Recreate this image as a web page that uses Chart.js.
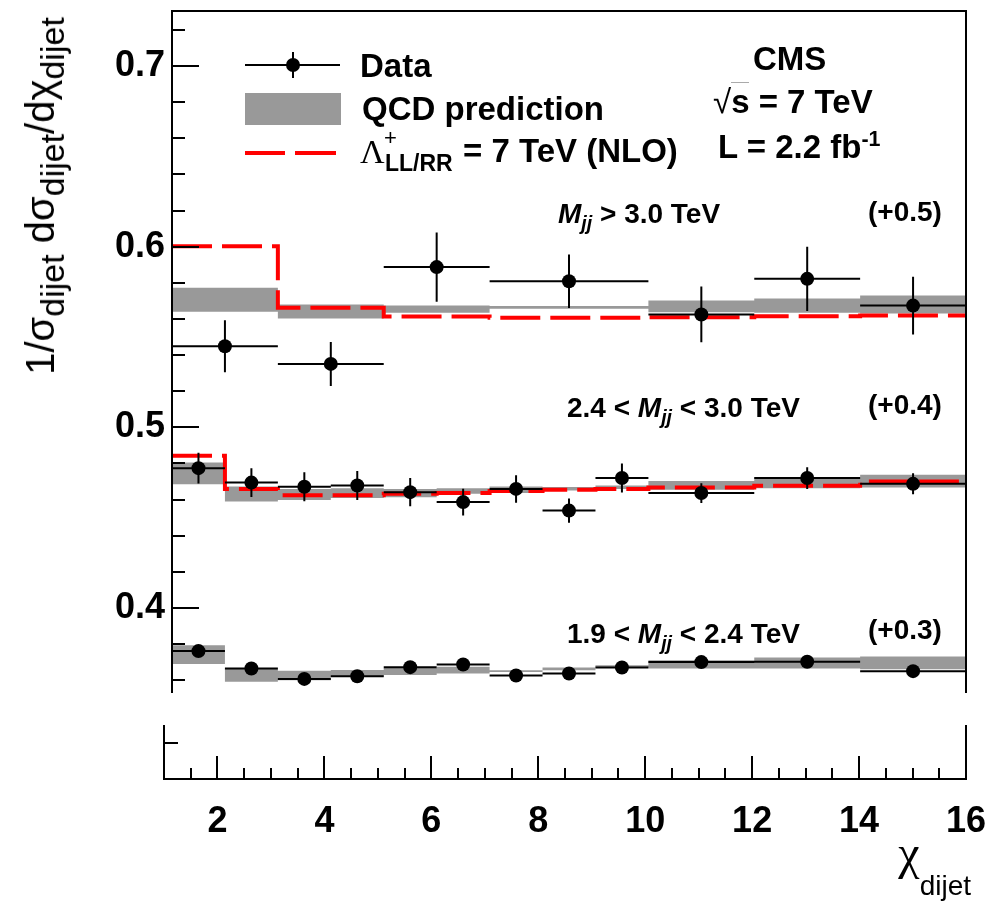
<!DOCTYPE html>
<html>
<head>
<meta charset="utf-8">
<script src="https://cdn.jsdelivr.net/npm/chart.js@4.4.1/dist/chart.umd.min.js"></script>
<style>
html, body { margin: 0; padding: 0; background: #fff; }
#wrap { position: relative; width: 996px; height: 903px; overflow: hidden; font-family: 'Liberation Sans', Arial, sans-serif; color: #000; }
#topPad { position: absolute; left: 0; top: 0; }
#botPad { position: absolute; left: 0; top: 700px; }
.txt { position: absolute; white-space: nowrap; font-weight: bold; line-height: 1; }
.big { font-size: 33px; }
.mid { font-size: 28px; }
.txt sub { font-size: 0.7em; vertical-align: -0.35em; line-height: 0; }
.txt sup { font-size: 0.65em; vertical-align: 0.55em; line-height: 0; }
.ytitle sub { font-size: 0.85em; vertical-align: -0.3em; }
.sym { position: absolute; }
</style>
</head>
<body>
<div id="wrap">
  <canvas id="topPad" width="996" height="700"></canvas>
  <canvas id="botPad" width="996" height="203"></canvas>

  <!-- legend -->
  <div class="sym" style="left:245px;top:64px;width:95px;height:2px;background:#000"></div>
  <div class="sym" style="left:292px;top:52px;width:2px;height:26px;background:#000"></div>
  <div class="sym" style="left:286px;top:58px;width:14px;height:14px;border-radius:50%;background:#000"></div>
  <div class="txt big" style="left:360px;top:49px">Data</div>
  <div class="sym" style="left:245px;top:93px;width:96px;height:32px;background:#999"></div>
  <div class="txt big" style="left:362px;top:92px">QCD prediction</div>
  <div class="sym" style="left:245px;top:151px;width:40px;height:4px;background:#f00"></div>
  <div class="sym" style="left:295px;top:151px;width:41px;height:4px;background:#f00"></div>
  <div class="txt" style="left:360px;top:135px;font-family:'Liberation Serif';font-weight:normal;font-size:34px">Λ</div>
  <div class="txt" style="left:384px;top:127px;font-weight:normal;font-size:22px">+</div>
  <div class="txt" style="left:385px;top:152px;font-size:23px">LL/RR</div>
  <div class="txt big" style="left:463px;top:134px">= 7 TeV (NLO)</div>

  <div class="txt big" style="left:753px;top:42px">CMS</div>
  <div class="txt big" style="left:713px;top:85px"><span style="font-weight:normal">√</span><span style="border-top:1px solid #aaa">s</span> = 7 TeV</div>
  <div class="txt big" style="left:718px;top:130px">L = 2.2 fb<sup>-1</sup></div>

  <div class="txt mid" style="left:558px;top:200px"><i>M</i><sub><i>jj</i></sub> &gt; 3.0 TeV</div>
  <div class="txt mid" style="left:868px;top:198px">(+0.5)</div>
  <div class="txt mid" style="left:567px;top:394px">2.4 &lt; <i>M</i><sub><i>jj</i></sub> &lt; 3.0 TeV</div>
  <div class="txt mid" style="left:868px;top:391px">(+0.4)</div>
  <div class="txt mid" style="left:567px;top:620px">1.9 &lt; <i>M</i><sub><i>jj</i></sub> &lt; 2.4 TeV</div>
  <div class="txt mid" style="left:868px;top:616px">(+0.3)</div>

  <!-- axis titles -->
  <div class="txt ytitle" style="left:40px;top:196px;font-weight:normal;font-size:40px;transform:translate(-50%,-50%) rotate(-90deg)">1/σ<sub>dijet</sub> dσ<sub>dijet</sub>/dχ<sub>dijet</sub></div>
  <div class="txt" style="right:25px;top:829px;font-weight:normal;font-size:48px"><span style="font-family:'Liberation Serif'">χ</span><span style="font-size:28px;vertical-align:-26px;line-height:0">dijet</span></div>
</div>

<script>
// chi_dijet bin edges
var edgesHigh = [1, 3, 5, 7, 10, 12, 14, 16];
var edgesFine = [1, 2, 3, 4, 5, 6, 7, 8, 9, 10, 12, 14, 16];

// M_jj > 3.0 TeV (+0.5)
var dataHigh = [0.5449, 0.5351, 0.5887, 0.5809, 0.5625, 0.5822, 0.5674];
var errHigh = [0.0144, 0.0122, 0.0192, 0.0148, 0.0154, 0.0178, 0.0160];
var qcdHighLo = [0.5640, 0.5602, 0.5634, 0.5656, 0.5637, 0.5634, 0.5630];
var qcdHighHi = [0.5773, 0.5680, 0.5674, 0.5671, 0.5702, 0.5713, 0.5730];
var ciHigh = [0.6003, 0.5662, 0.5613, 0.5606, 0.5610, 0.5615, 0.5619];

// 2.4 < M_jj < 3.0 TeV (+0.4)
var dataMid = [0.4774, 0.4694, 0.4671, 0.4678, 0.4641, 0.4586, 0.4659, 0.4539, 0.4719, 0.4636, 0.4719, 0.4687];
var errMid = [0.0085, 0.0080, 0.0080, 0.0080, 0.0078, 0.0074, 0.0076, 0.0067, 0.0080, 0.0055, 0.0060, 0.0058];
var qcdMidLo = [0.4685, 0.4589, 0.4598, 0.4608, 0.4613, 0.4632, 0.4636, 0.4650, 0.4658, 0.4654, 0.4663, 0.4667];
var qcdMidHi = [0.4805, 0.4672, 0.4659, 0.4663, 0.4658, 0.4663, 0.4672, 0.4670, 0.4678, 0.4703, 0.4724, 0.4737];
var ciMid = [0.4842, 0.4659, 0.4624, 0.4624, 0.4632, 0.4636, 0.4647, 0.4654, 0.4659, 0.4667, 0.4677, 0.4700];

// 1.9 < M_jj < 2.4 TeV (+0.3)
var dataLow = [0.3761, 0.3665, 0.3607, 0.3622, 0.3672, 0.3687, 0.3626, 0.3637, 0.3670, 0.3700, 0.3702, 0.3650];
var errLow = [0.0020, 0.0018, 0.0018, 0.0018, 0.0018, 0.0018, 0.0018, 0.0018, 0.0018, 0.0018, 0.0018, 0.0018];
var qcdLowLo = [0.3689, 0.3591, 0.3600, 0.3619, 0.3628, 0.3637, 0.3645, 0.3655, 0.3670, 0.3665, 0.3665, 0.3660];
var qcdLowHi = [0.3794, 0.3665, 0.3652, 0.3656, 0.3668, 0.3674, 0.3655, 0.3670, 0.3683, 0.3710, 0.3725, 0.3731];

// axes
var yRange = [0.3529, 0.7305];
var yMajorStep = 0.1, yMinorStep = 0.02;
var xRange = [1, 16];
var xMajorStep = 2, xMinorStep = 0.5;
var ratioRange = [0.9, 1.05];
var ratioTicks = [1.0];

function stepPoints(edges, vals) {
    var pts = [];
    for (var i = 0; i < vals.length; i++) {
        pts.push({ x: edges[i], y: vals[i] });
        pts.push({ x: edges[i + 1], y: vals[i] });
    }
    return pts;
}

function markerPoints(edges, vals) {
    return vals.map(function (v, i) {
        return { x: (edges[i] + edges[i + 1]) / 2, y: v };
    });
}

// x bars = bin width, y bars = stat. error; null breaks the line
function errorBars(edges, vals, errs) {
    var pts = [];
    for (var i = 0; i < vals.length; i++) {
        var c = (edges[i] + edges[i + 1]) / 2;
        pts.push({ x: edges[i], y: vals[i] }, { x: edges[i + 1], y: vals[i] }, { x: c, y: null });
        pts.push({ x: c, y: vals[i] - errs[i] }, { x: c, y: vals[i] + errs[i] }, { x: c, y: null });
    }
    return pts;
}

var series = [
    { edges: edgesHigh, data: dataHigh, err: errHigh, lo: qcdHighLo, hi: qcdHighHi, ci: ciHigh },
    { edges: edgesFine, data: dataMid, err: errMid, lo: qcdMidLo, hi: qcdMidHi, ci: ciMid },
    { edges: edgesFine, data: dataLow, err: errLow, lo: qcdLowLo, hi: qcdLowHi, ci: null }
];

var datasets = [];
var markers = [], bars = [];
series.forEach(function (s) {
    markers = markers.concat(markerPoints(s.edges, s.data));
    bars = bars.concat(errorBars(s.edges, s.data, s.err));
});
datasets.push({
    label: "Data", data: markers, showLine: false, order: 0,
    pointRadius: 7, pointBackgroundColor: "#000", pointBorderWidth: 0
});
datasets.push({
    label: "Data errors", data: bars, order: 1, borderColor: "#000",
    borderWidth: 2, pointRadius: 0, spanGaps: false
});
series.forEach(function (s) {
    if (s.ci) {
        datasets.push({
            label: "CI NLO", data: stepPoints(s.edges, s.ci), order: 2,
            borderColor: "#ff0000", borderWidth: 4, borderDash: [40, 10],
            pointRadius: 0, borderCapStyle: "butt"
        });
    }
});
series.forEach(function (s) {
    datasets.push({
        label: "QCD low", data: stepPoints(s.edges, s.lo), order: 3,
        borderWidth: 0, pointRadius: 0, fill: false
    });
    datasets.push({
        label: "QCD high", data: stepPoints(s.edges, s.hi), order: 3,
        borderWidth: 0, pointRadius: 0, fill: "-1", backgroundColor: "#999999"
    });
});

// ROOT-like frame with ticks pointing inside
function rootFrame(sides, tickSpecs) {
    return {
        id: "rootFrame",
        afterDraw: function (chart) {
            var ctx = chart.ctx, a = chart.chartArea;
            ctx.save();
            ctx.strokeStyle = "#000";
            ctx.lineWidth = 2;
            ctx.beginPath();
            if (sides.indexOf("left") >= 0) { ctx.moveTo(a.left, a.top); ctx.lineTo(a.left, a.bottom); }
            if (sides.indexOf("right") >= 0) { ctx.moveTo(a.right, a.top); ctx.lineTo(a.right, a.bottom); }
            if (sides.indexOf("top") >= 0) { ctx.moveTo(a.left - 1, a.top); ctx.lineTo(a.right + 1, a.top); }
            if (sides.indexOf("bottom") >= 0) { ctx.moveTo(a.left - 1, a.bottom); ctx.lineTo(a.right + 1, a.bottom); }
            ctx.stroke();

            ctx.beginPath();
            tickSpecs.forEach(function (t) {
                var sc = chart.scales[t.scale];
                var vals = [];
                if (t.values) {
                    vals = t.values;
                } else {
                    var k0 = Math.ceil(sc.min / t.minorStep - 1e-6), k1 = Math.floor(sc.max / t.minorStep + 1e-6);
                    for (var k = k0; k <= k1; k++) vals.push(k * t.minorStep);
                }
                vals.forEach(function (v) {
                    var isMajor = !t.values && Math.abs(v / t.majorStep - Math.round(v / t.majorStep)) < 1e-6;
                    var len = isMajor ? t.major : t.minor;
                    var p = Math.round(sc.getPixelForValue(v));
                    if (t.scale === "y") {
                        ctx.moveTo(a.left, p); ctx.lineTo(a.left + len, p);
                    } else {
                        if (p <= a.left + 1 || p >= a.right - 1) return;
                        ctx.moveTo(p, a.bottom); ctx.lineTo(p, a.bottom - len);
                    }
                });
            });
            ctx.stroke();
            ctx.restore();
        }
    };
}

function noPad(scale) {
    scale.paddingTop = 0; scale.paddingBottom = 0;
    scale.paddingLeft = 0; scale.paddingRight = 0;
}

var tickFont = { family: "'Liberation Sans', Arial, sans-serif", weight: "bold", size: 36 };

var topChart = new Chart(document.getElementById("topPad").getContext("2d"), {
    type: "line",
    data: { datasets: datasets },
    options: {
        responsive: false,
        animation: false,
        devicePixelRatio: 1,
        layout: { padding: { left: 0, top: 11, right: 30, bottom: 7 } },
        plugins: { legend: { display: false }, tooltip: { enabled: false } },
        scales: {
            x: { type: "linear", display: false, min: xRange[0], max: xRange[1] },
            y: {
                type: "linear", min: yRange[0], max: yRange[1],
                grid: { display: false, drawTicks: false },
                border: { display: false },
                ticks: {
                    stepSize: yMajorStep, includeBounds: false, padding: 7,
                    color: "#000", font: tickFont,
                    callback: function (v) { return v.toFixed(1); }
                },
                afterFit: function (scale) { scale.width = 172; noPad(scale); }
            }
        }
    },
    plugins: [rootFrame(["left", "top", "right"], [
        { scale: "y", majorStep: yMajorStep, minorStep: yMinorStep, major: 27, minor: 13 }
    ])]
});

var botChart = new Chart(document.getElementById("botPad").getContext("2d"), {
    type: "line",
    data: { datasets: [{ label: "ratio", data: [], pointRadius: 0 }] },
    options: {
        responsive: false,
        animation: false,
        devicePixelRatio: 1,
        layout: { padding: { left: 164, top: 25, right: 30, bottom: 0 } },
        plugins: { legend: { display: false }, tooltip: { enabled: false } },
        scales: {
            x: {
                type: "linear", min: xRange[0], max: xRange[1],
                grid: { display: false, drawTicks: false },
                border: { display: false },
                ticks: {
                    stepSize: xMajorStep, includeBounds: false, padding: 21,
                    autoSkip: false, maxRotation: 0, color: "#000", font: tickFont
                },
                afterFit: function (scale) { scale.height = 124; noPad(scale); }
            },
            y: { type: "linear", display: false, min: ratioRange[0], max: ratioRange[1] }
        }
    },
    plugins: [rootFrame(["left", "bottom", "right"], [
        { scale: "x", majorStep: xMajorStep, minorStep: xMinorStep, major: 23, minor: 11 },
        { scale: "y", values: ratioTicks, major: 14, minor: 14 }
    ])]
});
</script>
</body>
</html>
